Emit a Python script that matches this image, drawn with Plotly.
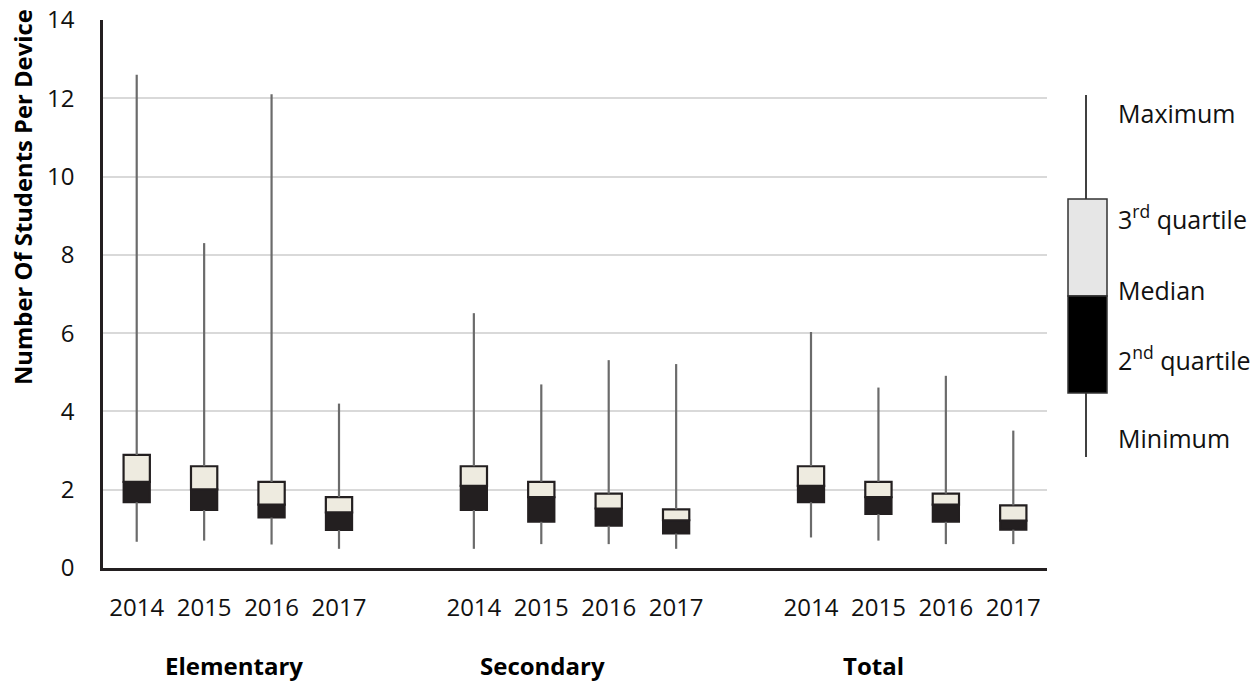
import plotly.graph_objects as go

# ---------------- data ----------------
groups = ["Elementary", "Secondary", "Total"]
years = ["2014", "2015", "2016", "2017"]

elem_min = [0.67, 0.70, 0.60, 0.49]
elem_q1 = [1.68, 1.48, 1.29, 0.97]
elem_med = [2.20, 2.01, 1.62, 1.42]
elem_q3 = [2.89, 2.60, 2.20, 1.81]
elem_max = [12.60, 8.30, 12.10, 4.20]

sec_min = [0.49, 0.61, 0.61, 0.49]
sec_q1 = [1.48, 1.18, 1.08, 0.88]
sec_med = [2.10, 1.81, 1.52, 1.22]
sec_q3 = [2.60, 2.20, 1.90, 1.50]
sec_max = [6.51, 4.69, 5.31, 5.21]

tot_min = [0.78, 0.70, 0.61, 0.61]
tot_q1 = [1.68, 1.38, 1.18, 0.98]
tot_med = [2.10, 1.81, 1.62, 1.21]
tot_q3 = [2.60, 2.20, 1.90, 1.60]
tot_max = [6.03, 4.61, 4.91, 3.51]

legend_labels = ["Maximum", "3<sup>rd</sup> quartile", "Median", "2<sup>nd</sup> quartile", "Minimum"]
y_title = "Number Of Students Per Device"

# ---------------- assemble ----------------
mins = elem_min + sec_min + tot_min
q1s = elem_q1 + sec_q1 + tot_q1
meds = elem_med + sec_med + tot_med
q3s = elem_q3 + sec_q3 + tot_q3
maxs = elem_max + sec_max + tot_max

xpos = []
for gi in range(len(groups)):
    for yi in range(len(years)):
        xpos.append(gi * (len(years) + 1) + yi)
ticktext = years * len(groups)

FONT = "Open Sans, Noto Sans, sans-serif"
DARK = "#231f20"
CREAM = "#eeebe0"
WHISK = "#6b6b6b"

fig = go.Figure()

# whiskers
wx, wy = [], []
for x, lo, a, b, hi in zip(xpos, mins, q1s, q3s, maxs):
    wx += [x, x, None, x, x, None]
    wy += [lo, a, None, b, hi, None]
fig.add_trace(go.Scatter(x=wx, y=wy, mode="lines",
                         line=dict(color=WHISK, width=2.2),
                         hoverinfo="skip", showlegend=False))

# lower half (q1 -> median)
fig.add_trace(go.Bar(x=xpos, base=q1s, y=[m - a for m, a in zip(meds, q1s)],
                     width=0.39, marker=dict(color=DARK, line=dict(color=DARK, width=2)),
                     showlegend=False, hoverinfo="skip"))
# upper half (median -> q3)
fig.add_trace(go.Bar(x=xpos, base=meds, y=[b - m for b, m in zip(q3s, meds)],
                     width=0.39, marker=dict(color=CREAM, line=dict(color=DARK, width=2.2)),
                     showlegend=False, hoverinfo="skip"))

# ---------------- layout ----------------
L, R, T, B = 103, 210, 20, 115
W, H = 1257, 683
pw = W - L - R
ph = H - T - B

def px(xp):
    return (xp - L) / pw

def py(yp):
    return (H - B - yp) / ph

fig.update_layout(
    width=W, height=H,
    margin=dict(l=L, r=R, t=T, b=B, autoexpand=False),
    paper_bgcolor="white", plot_bgcolor="white",
    barmode="overlay",
    font=dict(family=FONT, size=24, color="#111111"),
    xaxis=dict(range=[-0.5, 13.5], tickvals=xpos, ticktext=ticktext,
               showgrid=False, zeroline=False, showline=True, automargin=False,
               linecolor=DARK, linewidth=3, ticks="",
               tickfont=dict(size=24), ticklabelstandoff=16, fixedrange=True),
    yaxis=dict(range=[0, 14], dtick=2, showgrid=True, gridcolor="#d9d9d9",
               gridwidth=1.5, zeroline=False, showline=True, linecolor=DARK,
               linewidth=2.5, ticks="", tickfont=dict(size=24), automargin=False,
               ticklabelstandoff=21, fixedrange=True),
)

annotations = []
# y title
annotations.append(dict(text="<b>" + y_title + "</b>", textangle=-90,
                        xref="paper", yref="paper", x=px(23), y=py(197),
                        xanchor="center", yanchor="middle",
                        showarrow=False, font=dict(size=23.8, family=FONT, color="#000")))
# group labels
group_px = [234, 542, 873]
for g, gx in zip(groups, group_px):
    annotations.append(dict(text="<b>" + g + "</b>", xref="paper", yref="paper",
                            x=px(gx), y=py(683), xanchor="center", yanchor="bottom",
                            showarrow=False, borderpad=0,
                            font=dict(size=24, family=FONT, color="#000")))

# legend labels
lab_y = [113, 218, 290, 358, 438]
for t, ly in zip(legend_labels, lab_y):
    annotations.append(dict(text=t, xref="paper", yref="paper", x=px(1116), y=py(ly),
                            xanchor="left", yanchor="middle", showarrow=False,
                            font=dict(size=25, family=FONT, color="#111")))
fig.update_layout(annotations=annotations)

# legend glyph
shapes = [
    dict(type="line", xref="paper", yref="paper", x0=px(1086), x1=px(1086),
         y0=py(95), y1=py(457), line=dict(color="#000", width=1.5)),
    dict(type="rect", xref="paper", yref="paper", x0=px(1068), x1=px(1107),
         y0=py(296), y1=py(199), fillcolor="#e6e6e6", line=dict(color="#333", width=1.5)),
    dict(type="rect", xref="paper", yref="paper", x0=px(1068), x1=px(1107),
         y0=py(393), y1=py(296), fillcolor="#000000", line=dict(color="#333", width=1.5)),
]
fig.update_layout(shapes=shapes)

fig.write_html("out.html", config={"displayModeBar": False},
               post_script="document.body.style.margin='0';document.body.style.overflow='hidden';")
